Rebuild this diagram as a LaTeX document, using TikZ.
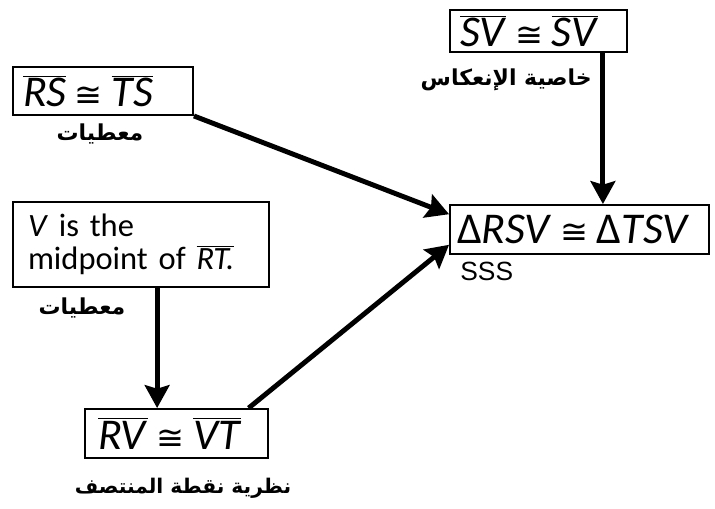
\documentclass[tikz,border=0pt]{standalone}
\usepackage{fontspec}
\setmainfont{Carlito}
\newfontfamily\arabicfont[Script=Arabic]{DejaVu Sans}
\newfontfamily\labelfont{Liberation Sans}
\newfontfamily\symfont{DejaVu Sans}
\TeXXeTstate=1
\usetikzlibrary{arrows.meta,calc}
\newcommand\segm[1]{\ensuremath{\overline{\mbox{\itshape #1\/}}}}
\newcommand\congr{\hspace{0.2em}{\symfont\fontsize{19}{19}\selectfont ≅}\hspace{0.2em}}
\begin{document}
\begin{tikzpicture}[
	x=0.02cm, y=-0.02cm,
	box/.style={rectangle, draw=black, line width=1.1pt, inner ysep=0pt, inner xsep=0.2cm, align=left, font=\fontsize{25}{29}\selectfont},
	note/.style={font=\arabicfont\bfseries\fontsize{12.5}{15}\selectfont},
	arr/.style={line width=2.8pt, -{Stealth[length=13pt, width=14pt, inset=2pt]}},
]
\useasboundingbox (0,0) rectangle (715,508);

% statements
\node[box, text width=3.14cm, minimum height=0.84cm] (sv) at (538.5,31) {\segm{SV}\congr\segm{SV}};
\node[box, text width=3.2cm, minimum height=0.96cm] (rs) at (103,91) {\segm{RS}\congr\segm{TS}};
\node[box, minimum height=1.7cm, inner xsep=0.3cm, text width=4.52cm, font=\fontsize{18.5}{18.5}\selectfont] (vbox) at (141,244.5)
	{\textit{V} is the \\ midpoint of \segm{RT.}};
\node[box, text width=3.14cm, minimum height=0.98cm, inner xsep=0.26cm] (rv) at (176.5,433.5) {\segm{RV}\congr\segm{VT}};
\node[box, text width=4.9cm, minimum height=0.98cm, inner xsep=0.14cm] (main) at (579.5,229.5) {Δ\textit{RSV}\congr Δ\textit{TSV}};

% reasons
\node[note, anchor=east] (svwhy) at (598,80) {\beginR خاصية الإنعكاس\endR};
\node[note] (rswhy) at (100,134) {\beginR معطيات\endR};
\node[note] (vwhy) at (82,308) {\beginR معطيات\endR};
\node[note, font=\arabicfont\bfseries\fontsize{11.5}{14}\selectfont] (rvwhy) at (183,488) {\beginR نظرية نقطة المنتصف\endR};
\node[anchor=west, inner sep=0pt, font=\labelfont\fontsize{15}{17}\selectfont] (mainwhy) at (460,271) {SSS};

% arrows
\draw[arr] ($(sv.south west)!0.86!(sv.south east)$) coordinate (svdown) -- (svdown |- main.north);
\draw[arr] (rs.south east) -- ($(main.north west)!0.2!(main.south west)$);
\draw[arr] ($(vbox.south west)!0.5625!(vbox.south east)$) coordinate (vdown) -- (vdown |- rv.north);
\draw[arr] ($(rv.north west)!0.89!(rv.north east)$) -- ($(main.north west)!0.8!(main.south west)$);
\end{tikzpicture}
\end{document}
